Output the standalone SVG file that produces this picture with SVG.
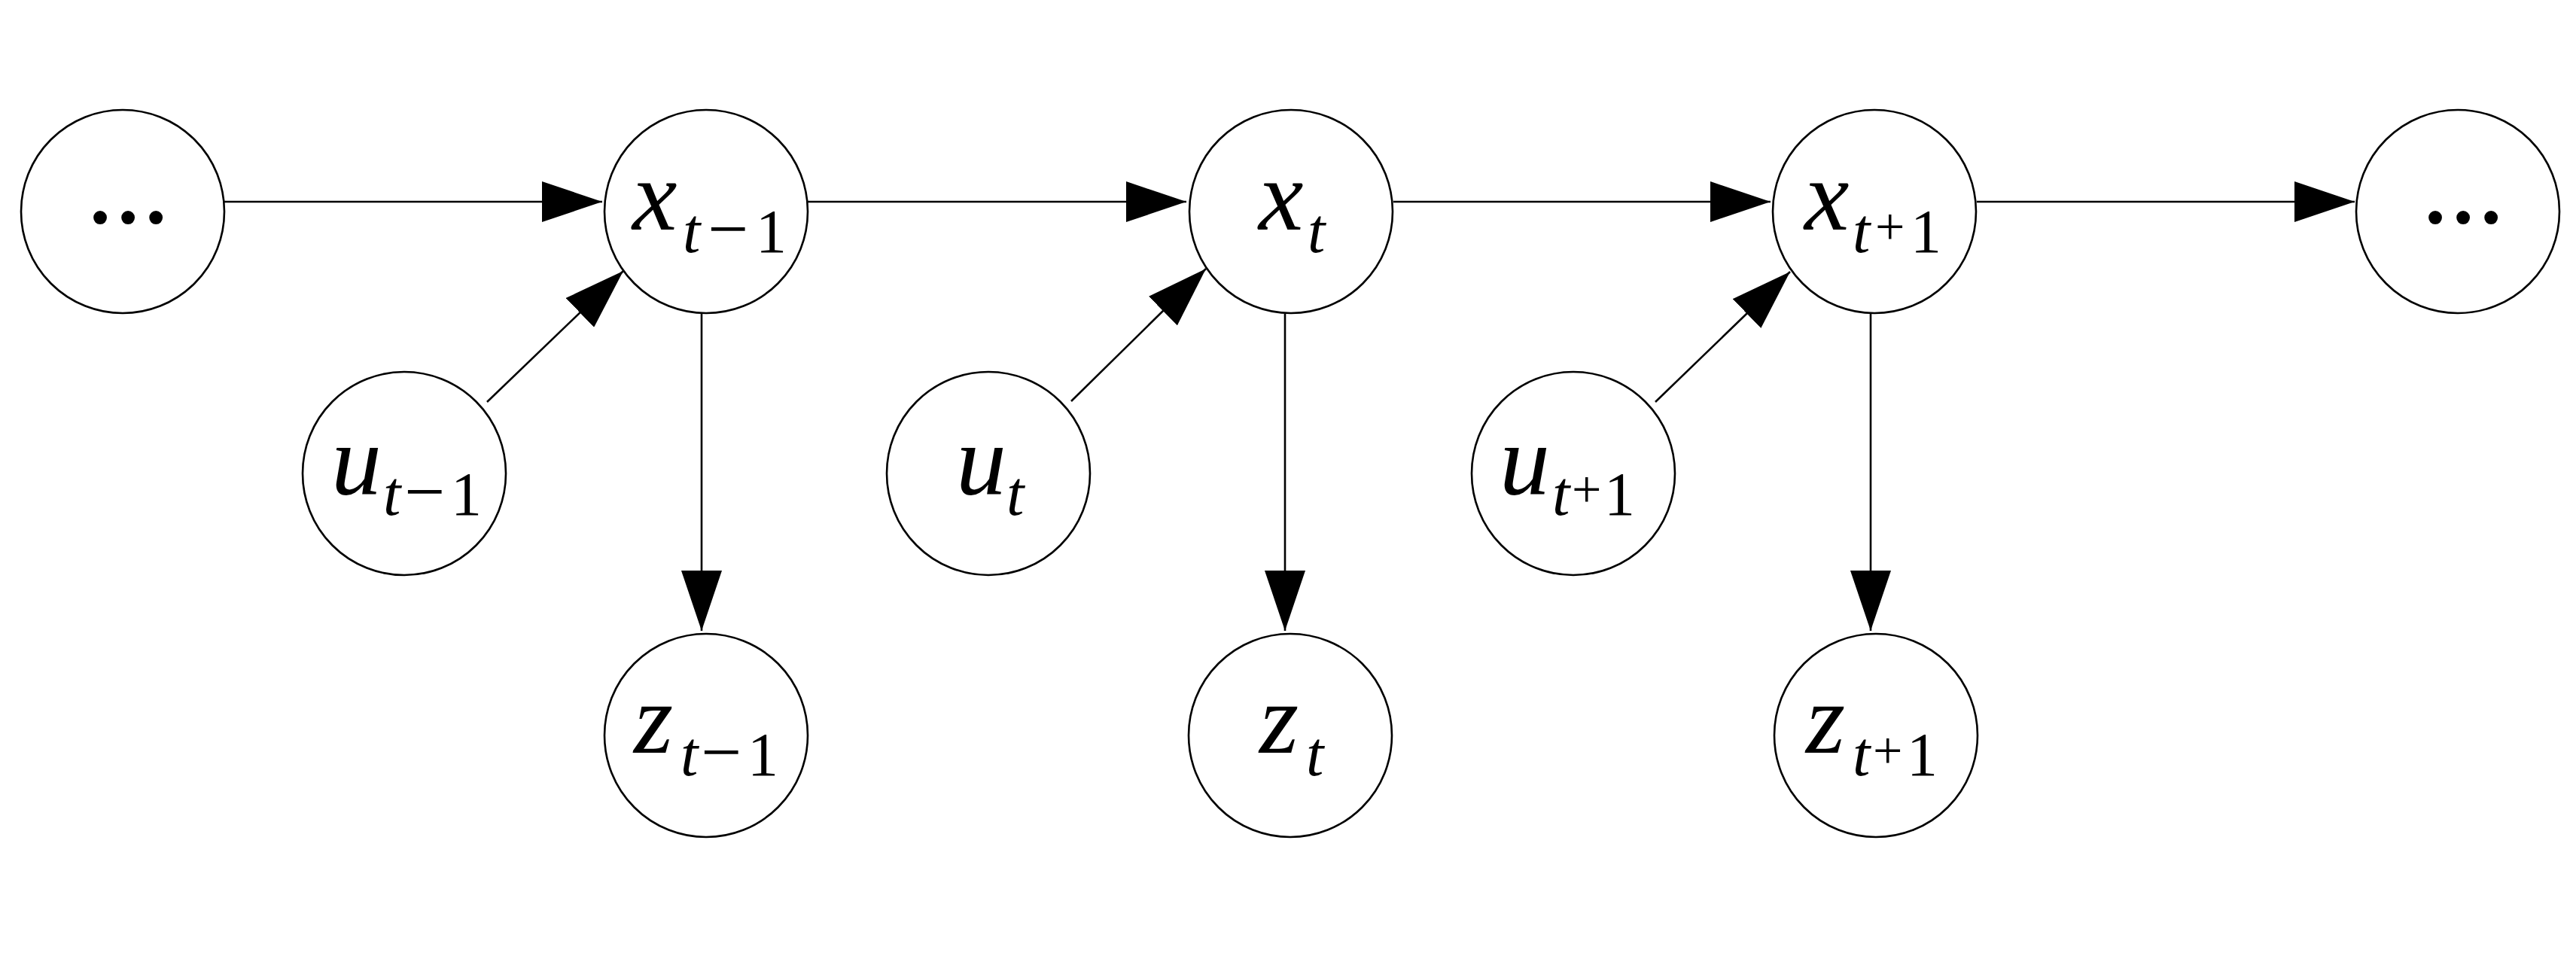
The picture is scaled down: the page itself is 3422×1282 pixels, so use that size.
<svg xmlns="http://www.w3.org/2000/svg" width="3422" height="1282" viewBox="0 0 3422 1282">
<style>
.node{fill:#fff;stroke:#000;stroke-width:2.6}
.edge{stroke:#000;stroke-width:2.6;fill:none;marker-end:url(#ah)}
.lbl{font-family:"Liberation Serif","Times New Roman",serif;fill:#000}
.m{font-size:134px;font-style:italic}
.s{font-size:84px;font-style:italic}
.n{font-size:82px;font-style:normal}
.p{font-size:70px;font-style:normal}
.mi{font-size:96px;font-style:normal}
.dots{font-family:"Liberation Serif",serif;font-size:110px;font-weight:bold;text-anchor:middle}
</style>
<defs>
<marker id="ah" markerUnits="userSpaceOnUse" markerWidth="82" markerHeight="54" viewBox="0 0 82 54" refX="80" refY="27" orient="auto">
<path d="M0,0 L80,27 L0,54 z" fill="#000"/>
</marker>
</defs>
<rect width="3422" height="1282" fill="#fff"/>
<g id="connectors">
<line class="edge" x1="298" y1="268" x2="800" y2="268"/>
<line class="edge" x1="1073" y1="268" x2="1576" y2="268"/>
<line class="edge" x1="1851" y1="268" x2="2352" y2="268"/>
<line class="edge" x1="2626" y1="268" x2="3128" y2="268"/>
<line class="edge" x1="932" y1="417" x2="932" y2="838"/>
<line class="edge" x1="1707" y1="417" x2="1707" y2="838"/>
<line class="edge" x1="2485" y1="417" x2="2485" y2="838"/>
<line class="edge" x1="647" y1="534" x2="828" y2="360"/>
<line class="edge" x1="1423" y1="533" x2="1602" y2="357"/>
<line class="edge" x1="2199" y1="534" x2="2378" y2="361"/>
</g>
<g id="dots-left"><circle class="node" cx="163" cy="281" r="135"/><text class="dots" x="170" y="296">…</text></g>
<g id="x-tm1"><circle class="node" cx="938" cy="281" r="135"/>
<text class="lbl"><tspan class="m" x="840" y="305">x</tspan><tspan class="s" x="907" y="335">t</tspan><tspan class="mi" x="940" y="336">−</tspan><tspan class="n" x="1004" y="335">1</tspan></text></g>
<g id="x-t"><circle class="node" cx="1715" cy="281" r="135"/>
<text class="lbl"><tspan class="m" x="1672" y="305">x</tspan><tspan class="s" x="1737" y="335">t</tspan></text></g>
<g id="x-tp1"><circle class="node" cx="2490" cy="281" r="135"/>
<text class="lbl"><tspan class="m" x="2397" y="305">x</tspan><tspan class="s" x="2461" y="335">t</tspan><tspan class="p" x="2491" y="325">+</tspan><tspan class="n" x="2538" y="335">1</tspan></text></g>
<g id="dots-right"><circle class="node" cx="3265" cy="281" r="135"/><text class="dots" x="3272" y="296">…</text></g>
<g id="u-tm1"><circle class="node" cx="537" cy="629" r="135"/>
<text class="lbl"><tspan class="m" x="440" y="656">u</tspan><tspan class="s" x="509" y="684">t</tspan><tspan class="mi" x="537" y="685">−</tspan><tspan class="n" x="599" y="684">1</tspan></text></g>
<g id="u-t"><circle class="node" cx="1313" cy="629" r="135"/>
<text class="lbl"><tspan class="m" x="1270" y="656">u</tspan><tspan class="s" x="1337" y="684">t</tspan></text></g>
<g id="u-tp1"><circle class="node" cx="2090" cy="629" r="135"/>
<text class="lbl"><tspan class="m" x="1992" y="656">u</tspan><tspan class="s" x="2062" y="684">t</tspan><tspan class="p" x="2088" y="674">+</tspan><tspan class="n" x="2131" y="684">1</tspan></text></g>
<g id="z-tm1"><circle class="node" cx="938" cy="977" r="135"/>
<text class="lbl"><tspan class="m" x="842" y="1000">z</tspan><tspan class="s" x="904" y="1030">t</tspan><tspan class="mi" x="931" y="1031">−</tspan><tspan class="n" x="993" y="1030">1</tspan></text></g>
<g id="z-t"><circle class="node" cx="1714" cy="977" r="135"/>
<text class="lbl"><tspan class="m" x="1673" y="1000">z</tspan><tspan class="s" x="1735" y="1030">t</tspan></text></g>
<g id="z-tp1"><circle class="node" cx="2492" cy="977" r="135"/>
<text class="lbl"><tspan class="m" x="2399" y="1000">z</tspan><tspan class="s" x="2461" y="1030">t</tspan><tspan class="p" x="2488" y="1021">+</tspan><tspan class="n" x="2533" y="1030">1</tspan></text></g>
</svg>
